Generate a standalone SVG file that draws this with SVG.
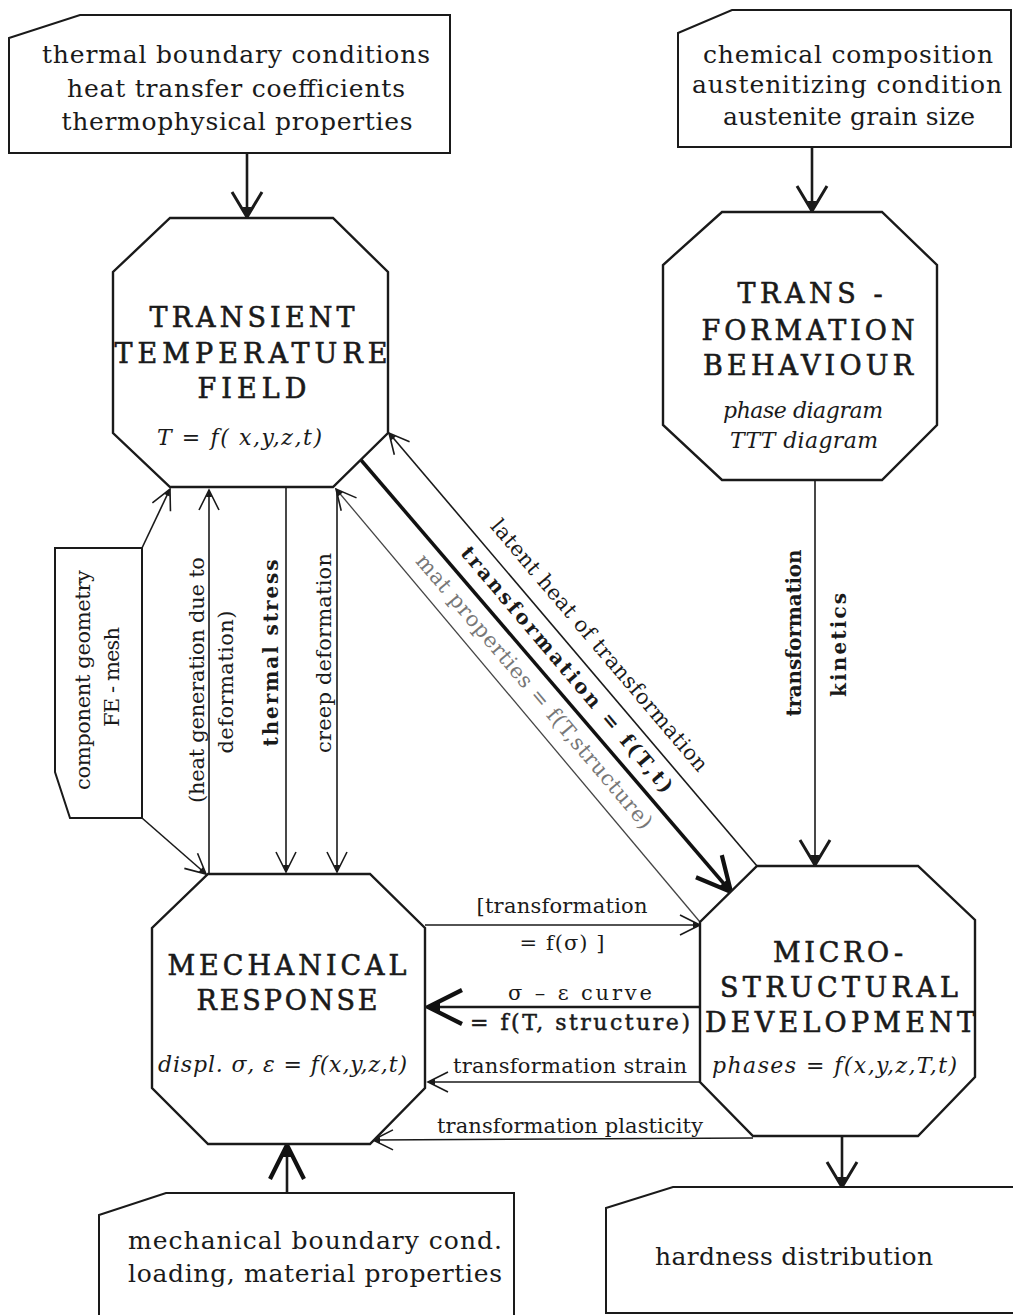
<svg xmlns="http://www.w3.org/2000/svg" width="1013" height="1315" viewBox="0 0 1013 1315">
<style>
 .box{fill:#fff;stroke:#1a1a1a;stroke-width:2}
 .oct{fill:#fff;stroke:#1a1a1a;stroke-width:2.4}
 .ln{fill:none;stroke:#1a1a1a;stroke-width:1.6}
 .lnL{fill:none;stroke:#1a1a1a;stroke-width:2.6}
 .lnB{fill:none;stroke:#111;stroke-width:3.5}
 .lnG{fill:none;stroke:#444;stroke-width:1.3}
 text{font-family:"DejaVu Serif","Liberation Serif",serif;fill:#1a1a1a}
 .t{font-size:25px;text-anchor:middle}
 .h{font-size:27px;text-anchor:middle;stroke:#1a1a1a;stroke-width:0.6}
 .f{font-size:22px;font-style:italic}
 .l{font-size:21px;text-anchor:middle}
 .lb{font-size:20px;text-anchor:middle;font-weight:bold}
 .g{fill:#777}
</style>
<defs>
 <marker id="a" markerUnits="userSpaceOnUse" markerWidth="40" markerHeight="40" viewBox="-30 -20 40 40" refX="0" refY="0" orient="auto" overflow="visible">
  <path d="M-20,-10 L0,0 L-20,10" fill="none" stroke="#1a1a1a" stroke-width="1.6"/>
  <path d="M-7,-3 L0,0 L-7,3 Z" fill="#1a1a1a"/>
 </marker>
 <marker id="aL" markerUnits="userSpaceOnUse" markerWidth="40" markerHeight="40" viewBox="-30 -20 40 40" refX="0" refY="0" orient="auto" overflow="visible">
  <path d="M-25,-15 L0,0 L-25,15" fill="none" stroke="#1a1a1a" stroke-width="3"/>
  <path d="M-10,-4.5 L0,0 L-10,4.5 Z" fill="#1a1a1a"/>
 </marker>
 <marker id="aB" markerUnits="userSpaceOnUse" markerWidth="40" markerHeight="40" viewBox="-30 -20 40 40" refX="0" refY="0" orient="auto" overflow="visible">
  <path d="M-34,-17 L0,0 L-34,17" fill="none" stroke="#111" stroke-width="4.2"/>
  <path d="M-12,-5 L0,0 L-12,5 Z" fill="#111"/>
 </marker>
</defs>
<rect x="0" y="0" width="1013" height="1315" fill="#fff"/>

<g id="connectors">
 <line class="lnL" x1="247" y1="153" x2="247" y2="217" marker-end="url(#aL)"/>
 <line class="lnL" x1="812" y1="147" x2="812" y2="211" marker-end="url(#aL)"/>
 <line class="ln" x1="209" y1="873" x2="209" y2="490" marker-end="url(#a)"/>
 <line class="ln" x1="286" y1="488" x2="286" y2="872" marker-end="url(#a)"/>
 <line class="ln" x1="337" y1="490" x2="337" y2="872" marker-end="url(#a)"/>
 <line class="ln" x1="142" y1="548" x2="170" y2="489" marker-end="url(#a)"/>
 <line class="ln" x1="142" y1="818" x2="206" y2="874" marker-end="url(#a)"/>
 <line class="ln" x1="815" y1="480" x2="815" y2="865" marker-end="url(#aL)"/>
 <line class="ln" x1="757" y1="866" x2="389" y2="433" marker-end="url(#a)"/>
 <line class="lnB" x1="361" y1="460" x2="731" y2="892" marker-end="url(#aB)"/>
 <line class="lnG" x1="700" y1="922" x2="336" y2="489" marker-end="url(#a)"/>
 <line class="ln" x1="425" y1="925" x2="700" y2="925" marker-end="url(#a)"/>
 <line class="lnL" x1="700" y1="1007" x2="428" y2="1007" marker-end="url(#aB)"/>
 <line class="ln" x1="700" y1="1082" x2="428" y2="1082" marker-end="url(#a)"/>
 <line class="ln" x1="753" y1="1138" x2="373" y2="1140" marker-end="url(#a)"/>
 <line class="lnL" x1="842" y1="1136" x2="842" y2="1187" marker-end="url(#aL)"/>
 <line class="lnL" x1="287" y1="1193" x2="287" y2="1145" marker-end="url(#aB)"/>
 <text class="l" transform="translate(204,680) rotate(-90)" textLength="246">(heat generation due to</text>
 <text class="l" transform="translate(233,682) rotate(-90)" textLength="143">deformation)</text>
 <text class="lb" transform="translate(278,653) rotate(-90)" textLength="187">thermal stress</text>
 <text class="l" transform="translate(331,653) rotate(-90)" textLength="200">creep deformation</text>
 <text class="lb" transform="translate(801,633) rotate(-90)" textLength="167">transformation</text>
 <text class="lb" transform="translate(846,645) rotate(-90)" textLength="104">kinetics</text>
 <text class="l" transform="translate(594,650) rotate(49.7)" textLength="323">latent heat of transformation</text>
 <text class="lb" transform="translate(562,674) rotate(49.7)" textLength="316">transformation = f(T,t)</text>
 <text class="l g" transform="translate(529,696) rotate(49.7)" textLength="353">mat properties = f(T,structure)</text>
 <text class="l" x="562" y="913" textLength="171">[transformation</text>
 <text class="l" x="562" y="950" textLength="85">= f(σ) ]</text>
 <text class="l" x="580" y="1000" textLength="144">σ – ε curve</text>
 <text class="l" x="580" y="1030" textLength="220" style="font-size:22px;stroke:#1a1a1a;stroke-width:0.5">= f(T, structure)</text>
 <text class="l" x="570" y="1073" textLength="234">transformation strain</text>
 <text class="l" x="570" y="1133" textLength="266">transformation plasticity</text>
</g>

<g id="n_thermal_bc">
 <polygon class="box" points="9,38 80,15 450,15 450,153 9,153"/>
 <text class="t" x="236" y="63" textLength="388">thermal boundary conditions</text>
 <text class="t" x="236" y="97" textLength="338">heat transfer coefficients</text>
 <text class="t" x="237" y="130" textLength="351">thermophysical properties</text>
</g>

<g id="n_chem">
 <polygon class="box" points="678,33 732,10 1011,10 1011,147 678,147"/>
 <text class="t" x="848" y="63" textLength="290">chemical composition</text>
 <text class="t" x="847" y="93" textLength="310">austenitizing condition</text>
 <text class="t" x="849" y="125" textLength="252">austenite grain size</text>
</g>

<g id="n_ttf">
 <polygon class="oct" points="170,218 333,218 388,272 388,433 333,487 170,487 113,433 113,272"/>
 <text class="h" x="252" y="327" textLength="205">TRANSIENT</text>
 <text class="h" x="251" y="363" textLength="273">TEMPERATURE</text>
 <text class="h" x="252" y="398" textLength="109">FIELD</text>
 <text class="f" x="157" y="445" textLength="165">T =  f( x,y,z,t)</text>
</g>

<g id="n_tfb">
 <polygon class="oct" points="722,212 882,212 937,265 937,425 882,480 722,480 663,425 663,265"/>
 <text class="h" x="810" y="303" textLength="145">TRANS -</text>
 <text class="h" x="808" y="340" textLength="213">FORMATION</text>
 <text class="h" x="808" y="375" textLength="210">BEHAVIOUR</text>
 <text class="f" x="803" y="418" textLength="160" text-anchor="middle">phase diagram</text>
 <text class="f" x="804" y="448" textLength="148" text-anchor="middle">TTT diagram</text>
</g>

<g id="n_geom">
 <polygon class="box" points="55,548 142,548 142,818 70,818 55,772"/>
 <text class="l" transform="translate(90,680) rotate(-90)" textLength="220">component geometry</text>
 <text class="l" transform="translate(119,677) rotate(-90)" textLength="100">FE - mesh</text>
</g>

<g id="n_mech">
 <polygon class="oct" points="208,874 370,874 425,928 425,1088 370,1144 208,1144 152,1088 152,928"/>
 <text class="h" x="287" y="975" textLength="239">MECHANICAL</text>
 <text class="h" x="287" y="1010" textLength="181">RESPONSE</text>
 <text class="f" x="158" y="1072" textLength="249">displ. σ, ε = f(x,y,z,t)</text>
</g>

<g id="n_micro">
 <polygon class="oct" points="757,866 918,866 975,920 975,1077 918,1136 753,1136 700,1082 700,922"/>
 <text class="h" x="838" y="962" textLength="130">MICRO-</text>
 <text class="h" x="839" y="997" textLength="238">STRUCTURAL</text>
 <text class="h" x="840" y="1032" textLength="270">DEVELOPMENT</text>
 <text class="f" x="712" y="1073" textLength="245">phases =  f(x,y,z,T,t)</text>
</g>

<g id="n_mechbc">
 <polygon class="box" points="99,1215 166,1193 514,1193 514,1320 99,1320"/>
 <text class="t" x="315" y="1249" textLength="374">mechanical boundary cond.</text>
 <text class="t" x="315" y="1282" textLength="374">loading, material properties</text>
</g>

<g id="n_hard">
 <polygon class="box" points="606,1208 673,1187 1020,1187 1020,1313 606,1313"/>
 <text class="t" x="794" y="1265" textLength="278">hardness distribution</text>
</g>
</svg>
